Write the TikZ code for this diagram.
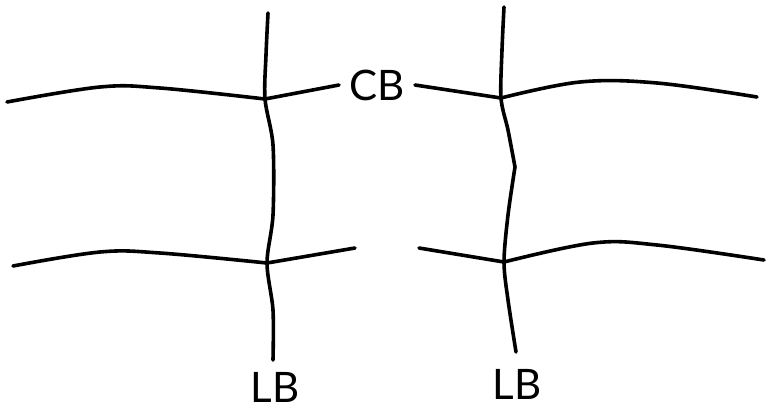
\documentclass[tikz,border=0pt]{standalone}
\usepackage{fontspec}
\setsansfont{Lato}
\usepackage{tikz}

\begin{document}
\begin{tikzpicture}[x=0.5pt,y=-0.5pt]
    \tikzset{fibre/.style={black, line width=1.8pt, line cap=round, line join=round}}
    \tikzset{tag/.style={font=\sffamily\fontsize{21}{24}\selectfont, inner sep=3pt}}
    \useasboundingbox (0,0) rectangle (767,408);

    %% junctions
    \coordinate (jTL) at (265,99);
    \coordinate (jBL) at (267,263);
    \coordinate (jTR) at (501,98);
    \coordinate (jBR) at (504,262);
    \coordinate (kink) at (515,167);

    %% labels
    \node[tag, inner xsep=5pt] (cb)  at (377,85)  {CB};
    \node[tag] (lbL) at (275,387) {LB};
    \node[tag] (lbR) at (517,384) {LB};

    %left vertical
    \draw[fibre] plot[smooth, tension=0.5] coordinates {(268,13) (266,55) (jTL) (273,145) (273,215) (jBL) (273,310) (273,360)};

    %right vertical
    \draw[fibre] plot[smooth, tension=0.5] coordinates {(504,7) (502,50) (jTR) (508,130) (kink)};
    \draw[fibre] plot[smooth, tension=0.5] coordinates {(kink) (508,215) (jBR) (508,300) (516,352)};

    %top row
    \draw[fibre] plot[smooth, tension=0.6] coordinates {(7,102) (100,87) (160,88) (jTL)};
    \draw[fibre] (jTL) -- (cb.west);
    \draw[fibre] (cb.east) -- (jTR);
    \draw[fibre] plot[smooth, tension=0.6] coordinates {(jTR) (580,82) (657,83) (757,97)};

    %bottom row
    \draw[fibre] plot[smooth, tension=0.6] coordinates {(13,266) (100,252) (160,253) (jBL)};
    \draw[fibre] (jBL) -- (355,248);
    \draw[fibre] (419,248) -- (jBR);
    \draw[fibre] plot[smooth, tension=0.6] coordinates {(jBR) (593,243) (657,245) (764,260)};
\end{tikzpicture}
\end{document}
